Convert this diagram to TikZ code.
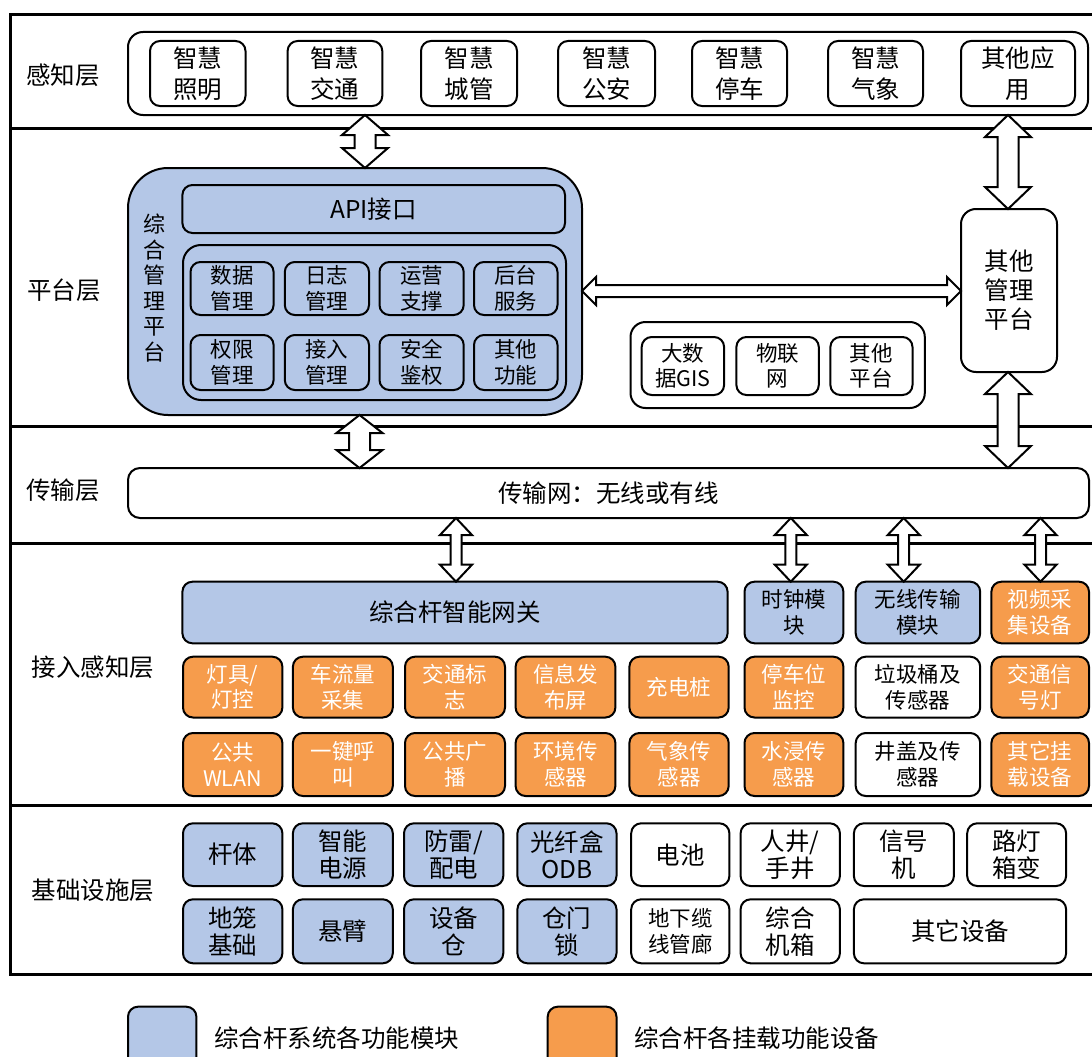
\documentclass[tikz,border=0pt]{standalone}
\usepackage{fontspec}
\setmainfont{Noto Sans CJK SC}
\usetikzlibrary{calc}
\definecolor{pblue}{RGB}{180,199,231}
\definecolor{porange}{RGB}{246,156,76}
\newcommand\fbig{\fontsize{24.5}{31}\selectfont}
\newcommand\fmid{\fontsize{24.5}{27}\selectfont}
\newcommand\fsml{\fontsize{21.5}{25.5}\selectfont}
\newcommand\fvert{\fontsize{22}{25.5}\selectfont}
\newcommand\bx[7]{%
  \pgfmathsetmacro\bxw{#4-#2}\pgfmathsetmacro\bxh{#5-#3}%
  \pgfmathsetmacro\bxx{(#2+#4)/2}\pgfmathsetmacro\bxy{(#3+#5)/2}%
  \node[#6, minimum width=\bxw pt, minimum height=\bxh pt] (#1) at (\bxx,\bxy) {#7};}
% vertical double block arrow: x-coordinate name, top anchor, bottom anchor, head half, shaft half, head length
\newcommand\vdarrow[6]{%
  \draw[barrow] let \p1=(#2 -| #1), \p2=(#3 -| #1) in
   (\x1,\y1) -- (\x1+#4pt,\y1-#6pt) -- (\x1+#5pt,\y1-#6pt) -- (\x1+#5pt,\y2+#6pt)
   -- (\x1+#4pt,\y2+#6pt) -- (\x1,\y2) -- (\x1-#4pt,\y2+#6pt) -- (\x1-#5pt,\y2+#6pt)
   -- (\x1-#5pt,\y1-#6pt) -- (\x1-#4pt,\y1-#6pt) -- cycle;}
% horizontal double block arrow: y-coordinate name, left anchor, right anchor, head half, shaft half, head length
\newcommand\hdarrow[6]{%
  \draw[barrow] let \p1=(#2 |- #1), \p2=(#3 |- #1) in
   (\x1,\y1) -- (\x1+#6pt,\y1+#4pt) -- (\x1+#6pt,\y1+#5pt) -- (\x2-#6pt,\y1+#5pt)
   -- (\x2-#6pt,\y1+#4pt) -- (\x2,\y1) -- (\x2-#6pt,\y1-#4pt) -- (\x2-#6pt,\y1-#5pt)
   -- (\x1+#6pt,\y1-#5pt) -- (\x1+#6pt,\y1-#4pt) -- cycle;}
\tikzset{
  base/.style={draw=black, line width=2pt, inner sep=0pt, outer sep=0pt, align=center, text=black},
  wbox/.style={base, fill=white, rounded corners=10pt, font=\fmid},
  pbox/.style={wbox, font=\fbig},
  bbox/.style={base, fill=pblue, rounded corners=10pt, font=\fmid},
  obox/.style={base, fill=porange, rounded corners=10pt, font=\fsml, text=white},
  sbbox/.style={bbox, font=\fsml},
  swbox/.style={wbox, font=\fsml},
  container/.style={base, fill=white, rounded corners=15pt},
  layerlabel/.style={font=\fbig, inner sep=0pt},
  barrow/.style={draw=black, fill=white, line width=2pt, line join=miter},
  sep/.style={line width=3pt},
}
\begin{document}
\begin{tikzpicture}[x=1pt,y=-1pt]
\useasboundingbox (0,0) rectangle (1092,1057);
\fill[white] (0,0) rectangle (1092,1057);
% frame and layer separators
\draw[sep] (10,15) rectangle (1110,974);
\draw[sep] (10,128) -- (1110,128);
\draw[sep] (10,426) -- (1110,426);
\draw[sep] (10,543) -- (1110,543);
\draw[sep] (10,805) -- (1110,805);
% layer labels
\node[layerlabel] (l1) at (63,75) {感知层};
\node[layerlabel] (l2) at (64,290) {平台层};
\node[layerlabel] (l3) at (63,490) {传输层};
\node[layerlabel] (l4) at (93,667) {接入感知层};
\node[layerlabel] (l5) at (93,890) {基础设施层};
% perception layer
\bx{perc}{128}{32}{1088}{115}{container}{}
\bx{p1}{150}{41}{245.5}{106}{pbox}{智慧\\照明}
\bx{p2}{287.6}{41}{382.3}{106}{pbox}{智慧\\交通}
\bx{p3}{421}{41}{517}{106}{pbox}{智慧\\城管}
\bx{p4}{558}{41}{655}{106}{pbox}{智慧\\公安}
\bx{p5}{692}{41}{787}{106}{pbox}{智慧\\停车}
\bx{p6}{828}{41}{923}{106}{pbox}{智慧\\气象}
\bx{p7}{961}{41}{1075}{106}{pbox}{其他应\\用}
% platform layer
\bx{mgmt}{128}{168}{582}{415}{base, fill=pblue, rounded corners=40pt}{}
\node[font=\fvert, align=center, inner sep=0pt] (mgmtlabel) at (154,288) {综\\合\\管\\理\\平\\台};
\bx{api}{182.4}{185}{565}{233}{bbox}{API接口}
\bx{inner}{183}{245}{566}{400}{base, fill=pblue, rounded corners=18pt}{}
\bx{m1}{190.5}{262}{273.6}{315}{sbbox}{数据\\管理}
\bx{m2}{284.8}{262}{369}{315}{sbbox}{日志\\管理}
\bx{m3}{379.5}{262}{463.7}{315}{sbbox}{运营\\支撑}
\bx{m4}{474}{262}{557.5}{315}{sbbox}{后台\\服务}
\bx{m5}{190.5}{335}{273.6}{390}{sbbox}{权限\\管理}
\bx{m6}{284.8}{335}{369}{390}{sbbox}{接入\\管理}
\bx{m7}{379.5}{335}{463.7}{390}{sbbox}{安全\\鉴权}
\bx{m8}{474}{335}{557.5}{390}{sbbox}{其他\\功能}
\bx{plat}{630.5}{322}{924.8}{408}{container}{}
\bx{q1}{641.7}{337}{724.1}{395}{swbox}{大数\\据GIS}
\bx{q2}{736.4}{337}{818.8}{395}{swbox}{物联\\网}
\bx{q3}{830.4}{337}{912.5}{395}{swbox}{其他\\平台}
\bx{omgmt}{961}{209}{1057}{372}{base, fill=white, rounded corners=15pt, font=\fontsize{24.5}{29}\selectfont}{其他\\管理\\平台}
% transmission layer
\bx{trans}{128}{468}{1089}{518}{base, fill=white, rounded corners=12pt, font=\fbig}{传输网：无线或有线}
% access layer
\bx{gw}{182.4}{581.7}{727.6}{643.3}{bbox, font=\fbig}{综合杆智能网关}
\bx{clock}{744.5}{581.7}{843.4}{643.3}{sbbox}{时钟模\\块}
\bx{wl}{855.7}{581.7}{980.2}{643.3}{sbbox}{无线传输\\模块}
\bx{video}{991.4}{581.7}{1089}{643.3}{obox}{视频采\\集设备}
\bx{a1}{183}{656.7}{282.4}{717.5}{obox}{灯具/\\灯控}
\bx{a2}{292.9}{656.7}{392.8}{717.5}{obox}{车流量\\采集}
\bx{a3}{405}{656.7}{505}{717.5}{obox}{交通标\\志}
\bx{a4}{515.6}{656.7}{615.4}{717.5}{obox}{信息发\\布屏}
\bx{a5}{629.4}{656.7}{728.7}{717.5}{obox}{充电桩}
\bx{a6}{744.5}{656.7}{843.4}{717.5}{obox}{停车位\\监控}
\bx{a7}{855.7}{656.7}{980.2}{717.5}{swbox}{垃圾桶及\\传感器}
\bx{a8}{991.4}{656.7}{1089}{717.5}{obox}{交通信\\号灯}
\bx{b1}{183}{733}{282.4}{796}{obox}{公共\\WLAN}
\bx{b2}{292.9}{733}{392.8}{796}{obox}{一键呼\\叫}
\bx{b3}{405}{733}{505}{796}{obox}{公共广\\播}
\bx{b4}{515.6}{733}{615.4}{796}{obox}{环境传\\感器}
\bx{b5}{629.4}{733}{728.7}{796}{obox}{气象传\\感器}
\bx{b6}{744.5}{733}{843.4}{796}{obox}{水浸传\\感器}
\bx{b7}{855.7}{733}{980.2}{796}{swbox}{井盖及传\\感器}
\bx{b8}{991.4}{733}{1089}{796}{obox}{其它挂\\载设备}
% infrastructure layer
\bx{i1}{183}{823.3}{282.4}{886}{bbox}{杆体}
\bx{i2}{292.9}{823.3}{392.8}{886}{bbox}{智能\\电源}
\bx{i3}{404}{823.3}{503.3}{886}{bbox}{防雷/\\配电}
\bx{i4}{517.4}{823.3}{616.5}{886}{bbox}{光纤盒\\ODB}
\bx{i5}{631.2}{823.3}{729.4}{886}{wbox}{电池}
\bx{i6}{740.6}{823.3}{839.9}{886}{wbox}{人井/\\手井}
\bx{i7}{853.9}{823.3}{953.9}{886}{wbox}{信号\\机}
\bx{i8}{967.2}{823.3}{1066.1}{886}{wbox}{路灯\\箱变}
\bx{j1}{183}{899.3}{282.4}{963.3}{bbox}{地笼\\基础}
\bx{j2}{292.9}{899.3}{392.8}{963.3}{bbox}{悬臂}
\bx{j3}{404}{899.3}{503.3}{963.3}{bbox}{设备\\仓}
\bx{j4}{517.4}{899.3}{616.5}{963.3}{bbox}{仓门\\锁}
\bx{j5}{631.2}{899.3}{729.4}{963.3}{swbox}{地下缆\\线管廊}
\bx{j6}{740.6}{899.3}{839.9}{963.3}{wbox}{综合\\机箱}
\bx{j7}{853.9}{899.3}{1066.1}{963.3}{wbox}{其它设备}
% legend
\bx{lg1}{128}{1006.7}{196.4}{1072}{bbox}{}
\node[font=\fbig, anchor=west, inner sep=0pt] (lg1t) at (214,1038) {综合杆系统各功能模块};
\bx{lg2}{547.7}{1006.7}{616.5}{1072}{obox}{}
\node[font=\fbig, anchor=west, inner sep=0pt] (lg2t) at (634,1038) {综合杆各挂载功能设备};
% arrow axes
\coordinate (xa) at (365,0);
\coordinate (xb) at (1008,0);
\coordinate (xc) at (359.5,0);
\coordinate (xd) at (456,0);
\coordinate (xe) at (790.8,0);
\coordinate (xf) at (903.7,0);
\coordinate (xg) at (1040.5,0);
\coordinate (yh) at (0,291);
% block arrows
\vdarrow{xa}{perc.south}{mgmt.north}{23}{10.5}{20}
\vdarrow{xb}{perc.south}{omgmt.north}{23}{10.5}{22}
\vdarrow{xc}{mgmt.south}{trans.north}{23}{10.5}{18}
\vdarrow{xb}{omgmt.south}{trans.north}{23}{10.5}{22}
\hdarrow{yh}{mgmt.east}{omgmt.west}{14}{6}{14}
\vdarrow{xd}{trans.south}{gw.north}{16}{5.5}{17}
\vdarrow{xe}{trans.south}{clock.north}{16}{5.5}{17}
\vdarrow{xf}{trans.south}{wl.north}{16}{5.5}{17}
\vdarrow{xg}{trans.south}{video.north}{16}{5.5}{17}
\end{tikzpicture}
\end{document}
